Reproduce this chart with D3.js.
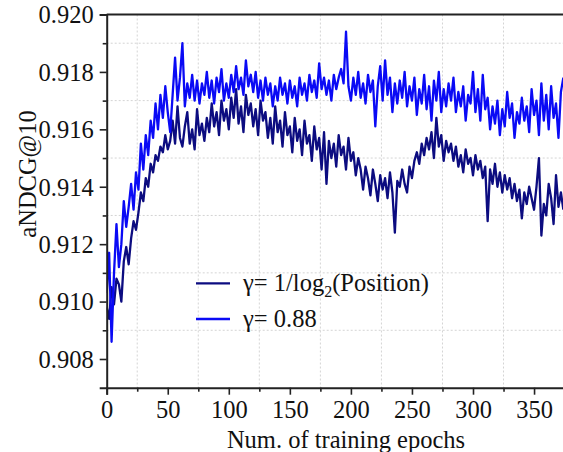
<!DOCTYPE html>
<html>
<head>
<meta charset="utf-8">
<script src="https://cdn.jsdelivr.net/npm/d3@7/dist/d3.min.js"></script>
<style>
  body { margin: 0; background: #fff; }
</style>
</head>
<body>
<div id="chart"></div>
<script>
// epochs sampled every 2
const epochs = d3.range(0, 375, 2);

// gamma = 1/log2(Position)
const seriesLog = [
  0.9098, 0.9094, 0.9105, 0.9099, 0.9108, 0.9106, 0.9100, 0.9114, 0.9119, 0.9113,
  0.9122, 0.9128, 0.9125, 0.9131, 0.9138, 0.9135, 0.9143, 0.9140, 0.9148, 0.9145,
  0.9151, 0.9149, 0.9154, 0.9152, 0.9158, 0.9153, 0.9156, 0.9163, 0.9155, 0.9168,
  0.9157, 0.9154, 0.9161, 0.9166, 0.9155, 0.9160, 0.9153, 0.9167, 0.9158, 0.9162,
  0.9156, 0.9164, 0.9159, 0.9169, 0.9161, 0.9166, 0.9158, 0.9170, 0.9163, 0.9167,
  0.9160, 0.9171, 0.9164, 0.9174, 0.9162, 0.9168, 0.9159, 0.9172, 0.9165, 0.9169,
  0.9161, 0.9167, 0.9158, 0.9170, 0.9163, 0.9166, 0.9157, 0.9164, 0.9155, 0.9168,
  0.9159, 0.9163, 0.9154, 0.9166, 0.9158, 0.9161, 0.9152, 0.9164, 0.9156, 0.9160,
  0.9151, 0.9163, 0.9155, 0.9158, 0.9149, 0.9161, 0.9153, 0.9157, 0.9146, 0.9159,
  0.9141, 0.9156, 0.9150, 0.9155, 0.9147, 0.9158, 0.9151, 0.9154, 0.9146, 0.9157,
  0.9149, 0.9152, 0.9144, 0.9150, 0.9146, 0.9139, 0.9147, 0.9143, 0.9137, 0.9146,
  0.9141, 0.9135, 0.9144, 0.9139, 0.9143, 0.9136, 0.9145, 0.9138, 0.9124, 0.9142,
  0.9140, 0.9146, 0.9141, 0.9138, 0.9147, 0.9143, 0.9149, 0.9152, 0.9148, 0.9155,
  0.9151, 0.9157, 0.9153, 0.9159, 0.9150, 0.9164, 0.9154, 0.9158, 0.9149, 0.9156,
  0.9152, 0.9155, 0.9149, 0.9154, 0.9147, 0.9151, 0.9145, 0.9153, 0.9148, 0.9150,
  0.9144, 0.9151, 0.9146, 0.9149, 0.9143, 0.9147, 0.9128, 0.9146, 0.9141, 0.9148,
  0.9140, 0.9145, 0.9138, 0.9144, 0.9139, 0.9143, 0.9136, 0.9141, 0.9135, 0.9139,
  0.9129, 0.9138, 0.9134, 0.9140, 0.9136, 0.9132, 0.9140, 0.9150, 0.9123, 0.9134,
  0.9130, 0.9141, 0.9136, 0.9127, 0.9144, 0.9133, 0.9138, 0.9132
];

// gamma = 0.88
const series088 = [
  0.9103, 0.9117, 0.9086, 0.9110, 0.9127, 0.9112, 0.9120, 0.9135, 0.9126, 0.9133,
  0.9141, 0.9132, 0.9145, 0.9139, 0.9155, 0.9146, 0.9158, 0.9151, 0.9163, 0.9157,
  0.9169, 0.9160, 0.9172, 0.9164, 0.9175, 0.9166, 0.9159, 0.9172, 0.9185, 0.9170,
  0.9178, 0.9190, 0.9168, 0.9176, 0.9171, 0.9179, 0.9170, 0.9177, 0.9169, 0.9176,
  0.9172, 0.9180, 0.9171, 0.9177, 0.9169, 0.9178, 0.9173, 0.9181, 0.9170, 0.9176,
  0.9171, 0.9179, 0.9173, 0.9182, 0.9174, 0.9178, 0.9172, 0.9184, 0.9175, 0.9179,
  0.9173, 0.9180, 0.9171, 0.9177, 0.9170, 0.9178, 0.9172, 0.9176, 0.9168, 0.9175,
  0.9170, 0.9178, 0.9172, 0.9176, 0.9169, 0.9177, 0.9171, 0.9175, 0.9168, 0.9178,
  0.9172, 0.9176, 0.9170, 0.9179, 0.9173, 0.9177, 0.9171, 0.9183, 0.9174, 0.9178,
  0.9172, 0.9177, 0.9170, 0.9179, 0.9174, 0.9178, 0.9181, 0.9176, 0.9194, 0.9175,
  0.9170, 0.9178, 0.9172, 0.9180, 0.9171, 0.9176, 0.9169, 0.9179, 0.9173, 0.9177,
  0.9161, 0.9175, 0.9182, 0.9170, 0.9184, 0.9172, 0.9178, 0.9166, 0.9176, 0.9169,
  0.9177, 0.9171, 0.9180, 0.9168, 0.9175, 0.9170, 0.9178, 0.9165, 0.9174, 0.9169,
  0.9179, 0.9167, 0.9175, 0.9163, 0.9177, 0.9170, 0.9180, 0.9166, 0.9174, 0.9168,
  0.9176, 0.9170, 0.9178, 0.9166, 0.9173, 0.9168, 0.9175, 0.9163, 0.9172, 0.9169,
  0.9180, 0.9166, 0.9174, 0.9163, 0.9179, 0.9167, 0.9171, 0.9160, 0.9168, 0.9162,
  0.9170, 0.9158, 0.9167, 0.9161, 0.9173, 0.9164, 0.9169, 0.9157, 0.9166, 0.9162,
  0.9171, 0.9163, 0.9168, 0.9159, 0.9174, 0.9165, 0.9170, 0.9158, 0.9176, 0.9163,
  0.9172, 0.9160, 0.9175, 0.9164, 0.9169, 0.9157, 0.9173, 0.9178
];

const xTicks = [0, 50, 100, 150, 200, 250, 300, 350];
const xMinor = [25, 75, 125, 175, 225, 275, 325, 375];
const yTicks = [0.908, 0.910, 0.912, 0.914, 0.916, 0.918, 0.920];
const yMinor = [0.909, 0.911, 0.913, 0.915, 0.917, 0.919];
const seriesNames = ["γ= 1/log", "γ= 0.88"];
const seriesColors = ["#0c0c80", "#0a0af5"];

const W = 563, H = 452;
const mLeft = 106.7, mTop = 14.5, mBottom = 387.7;
const FONT = "Liberation Serif";
const FS = 24.5;

const svg = d3.select("#chart").append("svg")
    .attr("width", W)
    .attr("height", H);

svg.append("rect").attr("width", W).attr("height", H).attr("fill", "#fff");

const x = d3.scaleLinear().domain([0, 400]).range([mLeft, mLeft + 400 * 1.221]);
const y = d3.scaleLinear().domain([0.907, 0.920]).range([mBottom, mTop]);

// gridlines (dotted, at minor ticks)
svg.append("g").selectAll("line").data(xMinor).join("line")
    .attr("x1", d => x(d)).attr("x2", d => x(d))
    .attr("y1", mTop).attr("y2", mBottom)
    .attr("stroke", "#d4d4d4").attr("stroke-width", 1)
    .attr("stroke-dasharray", "2,2");
svg.append("g").selectAll("line").data(yMinor).join("line")
    .attr("x1", mLeft).attr("x2", W)
    .attr("y1", d => y(d)).attr("y2", d => y(d))
    .attr("stroke", "#d4d4d4").attr("stroke-width", 1)
    .attr("stroke-dasharray", "2,2");

// lines
svg.append("clipPath").attr("id", "clip")
  .append("rect").attr("x", mLeft).attr("y", mTop - 3).attr("width", W - mLeft).attr("height", mBottom - mTop + 3);

const line = d3.line()
    .x((d, i) => x(epochs[i]))
    .y(d => y(d));

const plot = svg.append("g").attr("clip-path", "url(#clip)");
[seriesLog, series088].forEach((s, k) => {
  plot.append("path")
      .datum(s)
      .attr("fill", "none")
      .attr("stroke", seriesColors[k])
      .attr("stroke-width", 2.3)
      .attr("stroke-linejoin", "round")
      .attr("d", line);
});

// axes
const axisColor = "#222";
const xAxis = svg.append("g").attr("transform", "translate(0," + mBottom + ")");
xAxis.call(d3.axisBottom(x).tickValues(xTicks).tickSize(7).tickFormat(d3.format("d")));
xAxis.append("g").call(d3.axisBottom(x).tickValues(xMinor).tickSize(4).tickFormat(""))
    .select(".domain").remove();
xAxis.attr("font-family", FONT).attr("font-size", FS);
xAxis.selectAll("path.domain").attr("stroke", axisColor).attr("stroke-width", 2);
xAxis.selectAll(".tick line").attr("stroke", axisColor).attr("stroke-width", 1.6);
xAxis.selectAll(".tick text")
    .attr("y", 30).attr("dy", null)
    .attr("font-family", FONT).attr("font-size", FS).attr("fill", "#111");

const yAxis = svg.append("g").attr("transform", "translate(" + mLeft + ",0)");
yAxis.call(d3.axisLeft(y).tickValues(yTicks).tickSize(7).tickPadding(6).tickFormat(d3.format(".3f")));
yAxis.append("g").call(d3.axisLeft(y).tickValues(yMinor).tickSize(4).tickFormat(""))
    .select(".domain").remove();
yAxis.attr("font-family", FONT).attr("font-size", FS);
yAxis.selectAll("path.domain").attr("stroke", axisColor).attr("stroke-width", 2);
yAxis.selectAll(".tick line").attr("stroke", axisColor).attr("stroke-width", 1.6);
yAxis.selectAll(".tick text")
    .attr("dy", "0.34em")
    .attr("font-family", FONT).attr("font-size", FS).attr("fill", "#111");

// top frame line
svg.append("line")
    .attr("x1", mLeft).attr("x2", W)
    .attr("y1", mTop).attr("y2", mTop)
    .attr("stroke", axisColor).attr("stroke-width", 2);

// axis titles
svg.append("text")
    .attr("x", 346).attr("y", 448)
    .attr("text-anchor", "middle")
    .attr("font-family", FONT).attr("font-size", FS).attr("fill", "#111")
    .text("Num. of training epochs");

svg.append("text")
    .attr("transform", "translate(36,174) rotate(-90)")
    .attr("text-anchor", "middle")
    .attr("font-family", FONT).attr("font-size", FS).attr("fill", "#111")
    .text("aNDCG@10");

// legend
const legend = svg.append("g");
const legY = [283.3, 319];
seriesNames.forEach((name, k) => {
  legend.append("line")
      .attr("x1", 196).attr("x2", 230)
      .attr("y1", legY[k]).attr("y2", legY[k])
      .attr("stroke", seriesColors[k]).attr("stroke-width", 2.3);
  const t = legend.append("text")
      .attr("x", 243).attr("y", legY[k] + 8)
      .attr("font-family", FONT).attr("font-size", FS).attr("fill", "#111");
  t.append("tspan").text(name);
  if (k === 0) {
    t.append("tspan").attr("dy", 6).attr("font-size", 16).text("2");
    t.append("tspan").attr("dy", -6).text("(Position)");
  }
});
</script>
</body>
</html>
